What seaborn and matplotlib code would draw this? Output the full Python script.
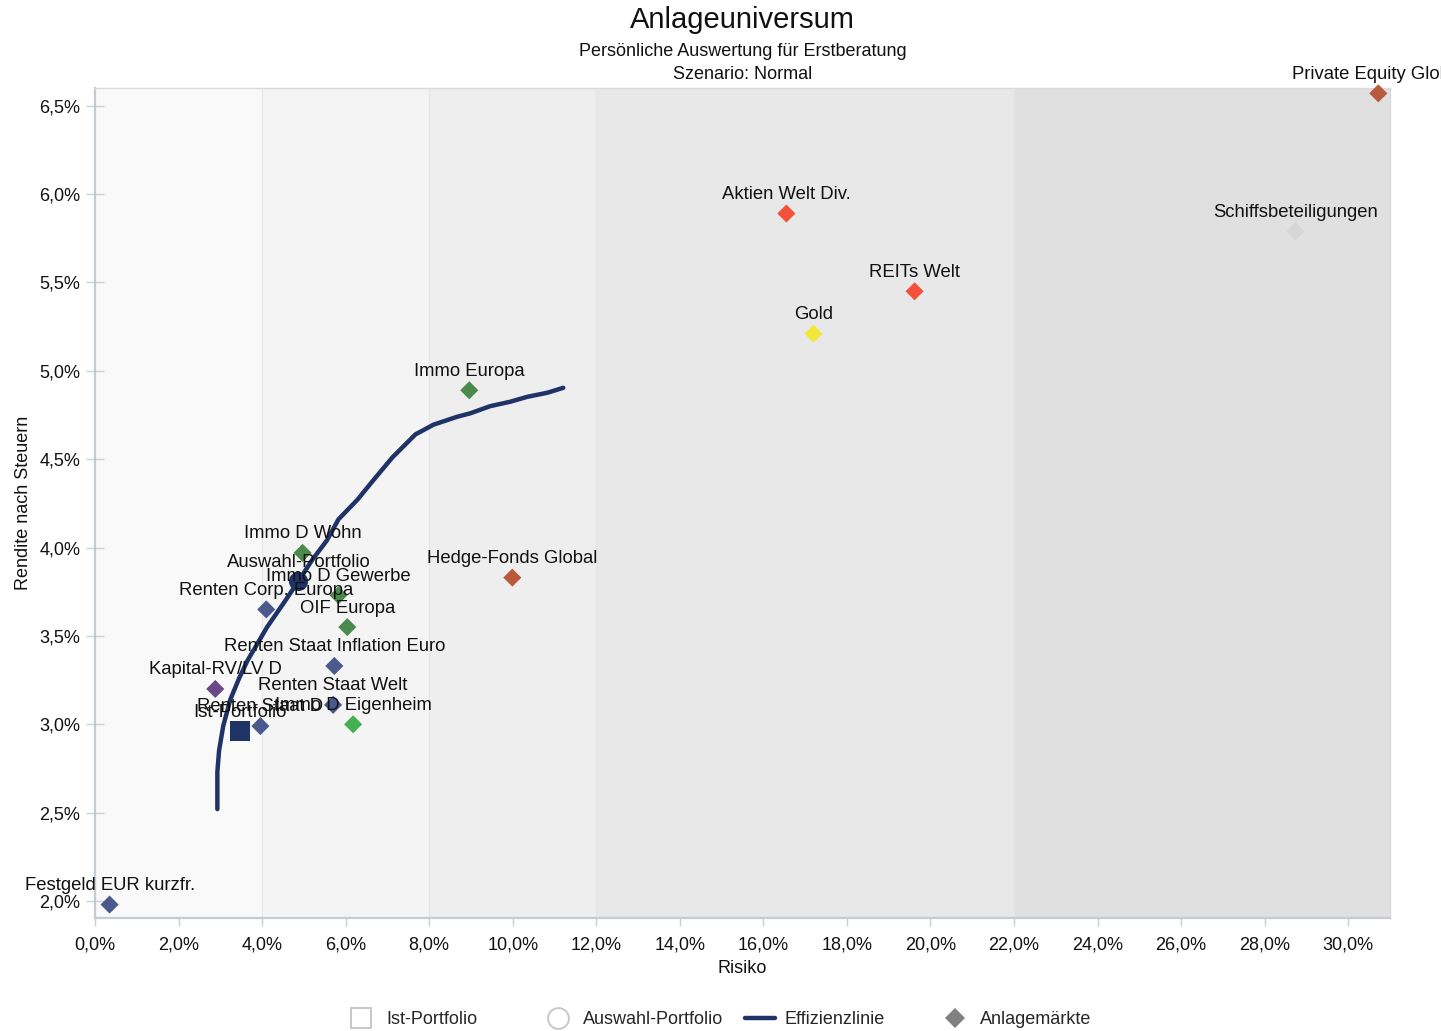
import matplotlib
matplotlib.use("Agg")
import matplotlib.pyplot as plt
from matplotlib.lines import Line2D
from matplotlib.ticker import FuncFormatter, MultipleLocator
import pandas as pd
import seaborn as sns

# --- Anlagemärkte: Risiko / Rendite nach Steuern (in %) ---
markets = [
    "Festgeld EUR kurzfr.", "Kapital-RV/LV D", "Renten Staat D", "Renten Corp. Europa",
    "Immo D Wohn", "Immo D Gewerbe", "OIF Europa", "Renten Staat Inflation Euro",
    "Renten Staat Welt", "Immo D Eigenheim", "Immo Europa", "Hedge-Fonds Global",
    "Aktien Welt Div.", "Gold", "REITs Welt", "Schiffsbeteiligungen", "Private Equity Global",
]
market_risk = [0.35, 2.88, 3.96, 4.10, 4.97, 5.83, 6.04, 5.73, 5.70, 6.18, 8.96, 9.99,
               16.55, 17.20, 19.62, 28.74, 30.72]
market_return = [1.98, 3.20, 2.99, 3.65, 3.97, 3.73, 3.55, 3.33, 3.11, 3.00, 4.89, 3.83,
                 5.89, 5.21, 5.45, 5.79, 6.57]
market_group = ["Renten", "Versicherung", "Renten", "Renten", "Immobilien", "Immobilien",
                "Immobilien", "Renten", "Renten", "Eigenheim", "Immobilien", "Alternativ",
                "Aktien", "Rohstoffe", "Aktien", "Beteiligungen", "Alternativ"]
group_colors = {
    "Renten": "#4a5a8c", "Versicherung": "#6a4a86", "Immobilien": "#4a8a4c",
    "Eigenheim": "#42b054", "Alternativ": "#b85a3c", "Aktien": "#f5503a",
    "Rohstoffe": "#f4e63a", "Beteiligungen": "#d6d6d6",
}

# --- Portfolios ---
portfolio_names = ["Ist-Portfolio", "Auswahl-Portfolio"]
portfolio_risk = [3.48, 4.87]
portfolio_return = [2.96, 3.81]
portfolio_markers = ["s", "o"]

# --- Effizienzlinie ---
frontier_risk = [2.93, 2.93, 2.97, 3.07, 3.24, 3.45, 3.65, 4.12, 4.50, 4.87, 5.20, 5.55,
                 5.83, 6.28, 6.66, 7.12, 7.67, 8.10, 8.67, 8.99, 9.46, 9.94, 10.35,
                 10.83, 11.21]
frontier_return = [2.52, 2.73, 2.85, 2.99, 3.14, 3.26, 3.36, 3.55, 3.68, 3.81, 3.93, 4.04,
                   4.16, 4.27, 4.38, 4.51, 4.64, 4.695, 4.74, 4.76, 4.80, 4.825, 4.853,
                   4.876, 4.904]

# --- Risikoklassen (Hintergrundbänder) ---
risk_bands = [0, 4, 8, 12, 22, 31]
band_colors = ["#f9f9f9", "#f4f4f4", "#eeeeee", "#e8e8e8", "#e0e0e0"]

navy = "#1f3366"

sns.set_theme(style="white")
plt.rcParams["font.family"] = ["Liberation Sans", "DejaVu Sans"]

fig = plt.figure(figsize=(14.41, 10.31), dpi=100)
ax = fig.add_axes([0.0659, 0.1096, 0.8987, 0.805])

for lo, hi, c in zip(risk_bands[:-1], risk_bands[1:], band_colors):
    ax.axvspan(lo, hi, facecolor=c, edgecolor="#e6e6e6", lw=0.8, zorder=0)

df = pd.DataFrame({"name": markets, "risk": market_risk, "ret": market_return,
                   "group": market_group})
sns.scatterplot(data=df, x="risk", y="ret", hue="group", palette=group_colors,
                marker="D", s=85, linewidth=0, legend=False, ax=ax, zorder=3,
                clip_on=False)

sns.lineplot(x=frontier_risk, y=frontier_return, sort=False, estimator=None,
             color=navy, lw=3.2, ax=ax, zorder=4)

for r, y, m in zip(portfolio_risk, portfolio_return, portfolio_markers):
    ax.scatter([r], [y], marker=m, s=190, color=navy, linewidths=0, zorder=5)

for name, r, y in list(zip(markets, market_risk, market_return)) + \
        list(zip(portfolio_names, portfolio_risk, portfolio_return)):
    ax.annotate(name, (r, y), xytext=(0, 10.5), textcoords="offset points",
                ha="center", va="baseline", fontsize=13.3, color="#111111",
                zorder=6, annotation_clip=False)

ax.set_xlim(0, 31.0)
ax.set_ylim(1.904, 6.60)
ax.xaxis.set_major_locator(MultipleLocator(2))
ax.yaxis.set_major_locator(MultipleLocator(0.5))
fmt = FuncFormatter(lambda v, _: f"{v:.1f}".replace(".", ",") + "%")
ax.xaxis.set_major_formatter(fmt)
ax.yaxis.set_major_formatter(fmt)
ax.tick_params(axis="y", direction="inout", length=13, width=1, color="#cfcfcf",
               pad=4, labelsize=13, labelcolor="#111111", left=True)
ax.tick_params(axis="x", direction="out", length=6, width=1, color="#cfcfcf",
               pad=7, labelsize=13, labelcolor="#111111", bottom=True)

for side in ("left", "bottom"):
    ax.spines[side].set_color("#c6cbd1")
    ax.spines[side].set_linewidth(1.6)
for side in ("top", "right"):
    ax.spines[side].set_color("#dadada")
    ax.spines[side].set_linewidth(1.0)

ax.set_xlabel("Risiko", fontsize=13, color="#111111", labelpad=5)
ax.set_ylabel("Rendite nach Steuern", fontsize=13, color="#111111", labelpad=5)

xc = 0.0659 + 0.8987 / 2
fig.text(xc, 0.9806, "Anlageuniversum", ha="center", va="center", fontsize=21,
         color="#111111")
fig.text(xc, 0.9505, "Persönliche Auswertung für Erstberatung", ha="center",
         va="center", fontsize=13, color="#111111")
fig.text(xc, 0.9273, "Szenario: Normal", ha="center", va="center", fontsize=13,
         color="#111111")

handles = [
    Line2D([], [], marker="s", ls="none", markersize=14, markerfacecolor="white",
           markeredgecolor="#c8c8c8", markeredgewidth=1.4),
    Line2D([], [], marker="o", ls="none", markersize=15, markerfacecolor="white",
           markeredgecolor="#c8c8c8", markeredgewidth=1.4),
    Line2D([], [], color=navy, lw=3.2),
    Line2D([], [], marker="D", ls="none", markersize=10, markerfacecolor="#808080",
           markeredgewidth=0),
]
labels = ["Ist-Portfolio", "Auswahl-Portfolio", "Effizienzlinie", "Anlagemärkte"]
legend_x = [346, 543, 745, 940]
for h, lab, x0 in zip(handles, labels, legend_x):
    fig.legend([h], [lab], loc="center left", bbox_to_anchor=(x0 / 1441, 0.0107),
               frameon=False, fontsize=13, borderpad=0, borderaxespad=0,
               handlelength=1.66, handletextpad=0.55)

fig.savefig("out.png", dpi=100)
